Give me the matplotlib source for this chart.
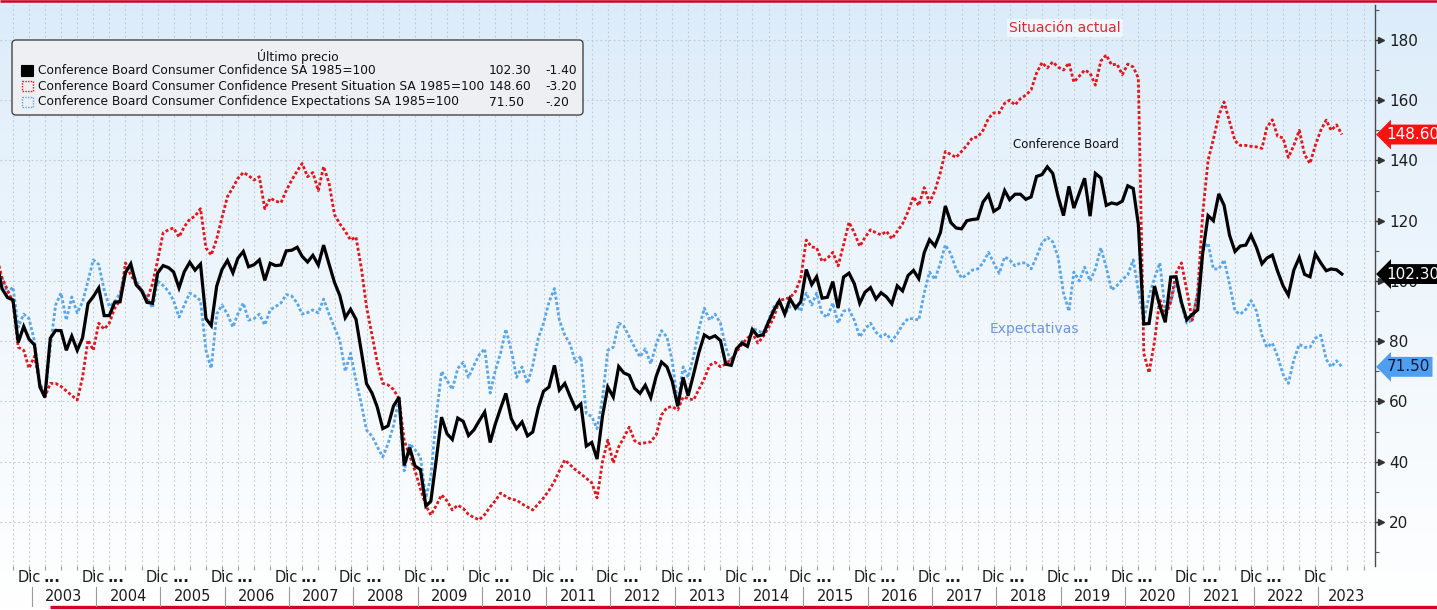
import numpy as np
import pandas as pd
import matplotlib
matplotlib.use("Agg")
import matplotlib.pyplot as plt
import matplotlib.dates as mdates
from matplotlib.patches import FancyBboxPatch, Rectangle
from matplotlib.transforms import blended_transform_factory
from matplotlib.ticker import FixedLocator, NullFormatter

# ---------------- data (monthly, Jun 2002 .. May 2023) ----------------
start_month = "2002-06-01"

conf = [
    106.3, 97.4, 94.5, 93.7, 79.6, 84.9, 80.7,
    78.8, 64.8, 61.4, 81.0, 83.6, 83.5, 77.0, 81.7, 77.0, 81.1, 92.5, 94.8,
    97.7, 88.5, 88.5, 93.0, 93.1, 102.8, 105.7, 98.7, 96.7, 92.9, 92.6, 102.7,
    105.1, 104.4, 103.0, 97.7, 103.1, 106.2, 103.6, 105.6, 87.5, 85.2, 98.3, 103.8,
    106.8, 102.7, 107.5, 109.8, 104.7, 105.4, 107.0, 100.2, 105.9, 105.1, 105.3, 110.0,
    110.2, 111.2, 108.2, 106.3, 108.5, 105.3, 111.9, 105.6, 99.5, 95.2, 87.8, 90.6,
    87.3, 76.4, 65.9, 62.8, 58.1, 51.0, 51.9, 58.5, 61.4, 38.8, 44.7, 38.6,
    37.4, 25.3, 26.9, 40.8, 54.8, 49.3, 47.4, 54.5, 53.4, 48.7, 50.6, 53.6,
    56.5, 46.4, 52.3, 57.7, 62.7, 54.3, 51.0, 53.2, 48.6, 49.9, 57.8, 63.4,
    64.8, 72.0, 63.8, 66.0, 61.7, 57.6, 59.2, 45.2, 46.4, 40.9, 55.2, 64.8,
    61.5, 71.6, 69.5, 68.7, 64.4, 62.7, 65.4, 61.3, 68.4, 73.1, 71.5, 66.7,
    58.4, 68.0, 61.9, 69.0, 76.2, 82.1, 81.0, 81.8, 80.2, 72.4, 72.0, 77.5,
    79.4, 78.3, 83.9, 81.7, 82.2, 86.4, 90.3, 93.4, 89.0, 94.1, 91.0, 93.1,
    103.8, 98.8, 101.4, 94.3, 94.6, 99.8, 91.0, 101.3, 102.6, 99.1, 92.6, 96.3,
    97.8, 94.0, 96.1, 94.7, 92.4, 98.4, 96.7, 101.8, 103.5, 100.8, 109.4, 113.7,
    111.6, 116.1, 124.9, 119.4, 117.6, 117.3, 120.0, 120.4, 120.6, 126.2, 128.6, 123.1,
    124.3, 130.0, 127.0, 128.8, 128.8, 127.1, 127.9, 134.7, 135.3, 137.9, 135.7, 128.1,
    121.7, 131.4, 124.2, 129.2, 134.1, 121.5, 135.7, 134.2, 125.1, 125.9, 125.5, 126.5,
    131.6, 130.7, 118.8, 85.7, 85.9, 98.3, 91.7, 86.3, 101.3, 101.4, 92.9, 87.1,
    88.9, 90.4, 109.0, 121.7, 120.0, 128.9, 125.1, 115.2, 109.8, 111.6, 111.9, 115.2,
    111.1, 105.7, 107.6, 108.6, 103.2, 98.4, 95.3, 103.6, 107.8, 102.2, 101.4, 109.0,
    106.0, 103.4, 104.0, 103.7, 102.3,
]

present = [
    108, 101, 97, 93, 78, 77, 71,
    75, 66, 61.5, 66, 66, 65, 63.5, 62, 60.5, 68, 80.4, 77,
    86, 84, 86, 91, 93.7, 106, 102, 99, 97, 93.7, 99, 107,
    116, 117, 117.6, 114.6, 118, 120.5, 121.5, 124, 111, 108.6, 114, 121,
    128, 131, 134, 136, 135, 133.5, 134.6, 124, 127.5, 126.5, 126, 130,
    133.5, 136.5, 139, 134.6, 136, 130, 138, 132.5, 122, 119, 116.5, 113.6,
    114.6, 104, 91.4, 82, 73, 66, 65.5, 64, 61, 47, 42, 37,
    31, 25.5, 22.3, 25.5, 29, 27, 24, 25.6, 24.5, 22.5, 21.5, 20.7,
    22.5, 25, 27, 29.6, 28.5, 27.5, 27.3, 26, 25, 24, 26, 28,
    30.5, 33.5, 37, 40.6, 39, 37.3, 36, 34.5, 33, 28, 40, 47.2,
    39.6, 45, 48, 51.5, 47, 46, 46.3, 46.6, 49, 55.5, 58, 58.3,
    57.2, 61.5, 61, 60.5, 64, 67.5, 72, 73, 71.5, 72.5, 74, 76.5,
    79, 81, 82.7, 79.4, 81.5, 84.5, 88, 93.5, 94, 94.5, 96.5, 101,
    113.6, 111.3, 111, 106.5, 107.5, 109.5, 105, 112, 119.5, 116, 111.5, 114.5,
    117, 116, 115.3, 116.5, 114, 116.5, 119, 123, 128, 125, 131, 126,
    130, 136, 143, 142, 141, 143, 145, 147.5, 147.8, 150, 154, 155.8,
    155.8, 159, 160, 158.4, 160.5, 161.7, 163.4, 169, 172.5, 170.7, 172.7, 171,
    170, 172.4, 166, 168, 170, 169, 165, 173, 175, 171.7, 172, 168.5,
    172, 171, 167.4, 76, 69.5, 80, 94, 88, 93, 102.6, 106, 97,
    87, 96, 122, 140, 147, 155, 159.4, 153, 146.5, 145, 145, 144.7,
    144.5, 144, 151, 153.5, 148, 147.5, 141, 145, 150, 142, 139, 145,
    150, 153.4, 150, 151.8, 148.6,
]

expect = [
    104, 101, 96, 98, 84.7, 89, 87.5,
    80, 66, 61.5, 78, 92, 96, 87, 94.7, 89.4, 93, 100, 107,
    105.5, 97, 91.5, 93, 96, 103, 104, 100, 97, 94.7, 91, 100,
    98.5, 96.5, 93.5, 88, 92, 96, 95, 93.5, 77, 71, 89, 92,
    89, 84.7, 89, 92.7, 87, 87.5, 89, 85.4, 90.4, 91.5, 92.7, 95.5,
    95, 92.7, 89, 89.5, 90.4, 89.4, 94, 89, 84.5, 80.4, 70, 76,
    67, 59, 50.5, 48.5, 45, 41.6, 46, 52, 61, 37, 46, 44,
    41.6, 28, 35, 55, 70, 67, 64, 71, 73, 68, 72, 75.5,
    77.5, 62.8, 70, 76, 84, 77, 68, 71.5, 66, 72, 81, 86,
    93, 97.5, 87, 82, 79, 73, 75, 56, 55, 51, 61, 77,
    78, 86, 85, 81.5, 78, 74.8, 77.5, 72.5, 79, 83.5, 81.4, 73.5,
    59.5, 71.5, 68, 75, 84, 91, 87, 89, 86, 78, 73, 77,
    80, 78, 84.4, 83.5, 82.7, 87, 91.4, 93.5, 89, 91.5, 92, 90,
    96, 92, 96, 89, 88, 92.7, 86, 90, 90.5, 87, 81.4, 84,
    86, 83, 81.5, 82.5, 80, 82.5, 85.5, 87.5, 87.5, 87, 96, 103,
    100.5, 106, 112, 109, 104, 101, 102, 103.6, 104, 106, 109.5, 106,
    102.5, 108, 107, 105, 106, 106, 104, 108, 112.6, 114.5, 113, 108,
    96, 90, 103, 100, 104.6, 100, 104, 111, 104.5, 97, 98.5, 100.5,
    102, 107, 97, 87, 95, 101, 106, 90, 93, 100, 92, 86,
    87, 96, 110, 112.6, 104, 104, 107, 99, 90, 89, 90.5, 93.5,
    90, 82, 78, 79.4, 75, 69, 66, 73.8, 79, 78, 78, 81,
    82, 74, 71.5, 73.5, 71.5,
]

legend_title = "Último precio"
legend_names = [
    "Conference Board Consumer Confidence SA 1985=100",
    "Conference Board Consumer Confidence Present Situation SA 1985=100",
    "Conference Board Consumer Confidence Expectations SA 1985=100",
]
last_values = ["102.30", "148.60", "71.50"]
last_numbers = [102.30, 148.60, 71.50]
changes = ["-1.40", "-3.20", "-.20"]
y_ticks = [20, 40, 60, 80, 100, 120, 140, 160, 180]
years = list(range(2003, 2024))
month_label = "Dic"

# ---------------- styling ----------------
C_BLACK = "#000000"
C_RED = "#e3161c"
C_BLUE = "#5aa6ea"
C_FRAME = "#d5001f"

W, H = 1437, 610
fig = plt.figure(figsize=(W / 100, H / 100), dpi=100)

# background gradient
bg = fig.add_axes([0, 0, 1, 1], zorder=-10)
t = np.linspace(0, 1, 300) ** 0.8
top_c = np.array([0.855, 0.922, 0.980])
bot_c = np.array([1.0, 1.0, 1.0])
img = top_c[None, None, :] + (bot_c - top_c)[None, None, :] * t[:, None, None]
bg.imshow(img, aspect="auto", extent=[0, 1, 0, 1], origin="upper")
bg.axis("off")

# main axes (pixel layout)
ax_l, ax_r, ax_t, ax_b = 0, 1375, 5, 566
ax = fig.add_axes([ax_l / W, 1 - ax_b / H, (ax_r - ax_l) / W, (ax_b - ax_t) / H])
ax.patch.set_alpha(0)

dates = pd.date_range(start_month, periods=len(conf), freq="MS")

ax.plot(dates, expect, color=C_BLUE, lw=2.0, ls=(0, (1.1, 0.8)), zorder=3)
ax.plot(dates, present, color=C_RED, lw=2.0, ls=(0, (1.1, 0.8)), zorder=3)
ax.plot(dates, conf, color=C_BLACK, lw=2.3, zorder=4, solid_joinstyle="miter")

dec02 = mdates.date2num(pd.Timestamp("2002-12-01"))
px_per_day = 5.36 / 30.44
ax.set_xlim(dec02 - 29 / px_per_day, dec02 + (1375 - 29) / px_per_day)
ax.set_ylim(5.4, 191.6)

# x ticks: Dec major, quarterly minor
dec_dates = [pd.Timestamp(f"{y - 1}-12-01") for y in years]
q_dates = []
for y in range(2002, 2024):
    for mth in (3, 6, 9):
        q_dates.append(pd.Timestamp(f"{y}-{mth:02d}-01"))
ax.xaxis.set_major_locator(FixedLocator(mdates.date2num(dec_dates)))
ax.xaxis.set_minor_locator(FixedLocator(mdates.date2num(q_dates)))
ax.xaxis.set_major_formatter(NullFormatter())
ax.xaxis.set_minor_formatter(NullFormatter())
ax.tick_params(axis="x", which="major", length=6, color="#8a8a8a", width=0.8)
ax.tick_params(axis="x", which="minor", length=3, color="#9a9a9a", width=0.8)

# y axis on the right
ax.yaxis.tick_right()
ax.set_yticks(y_ticks)
ax.set_yticks([v + 10 for v in [0] + y_ticks], minor=True)
ax.tick_params(axis="y", which="major", length=5, width=1.0, color="#333333",
               labelsize=11, labelcolor="#1c1c1c", pad=5)
ax.tick_params(axis="y", which="minor", length=3, width=0.8, color="#555555")
for side in ("left", "top", "bottom"):
    ax.spines[side].set_visible(False)
ax.spines["right"].set_color("#4a4a4a")
ax.spines["right"].set_linewidth(1.0)

# grid
ax.grid(True, axis="y", which="major", color="#c4c8cd", lw=0.8, ls=(0, (1.5, 2.5)))
ax.grid(True, axis="x", which="both", color="#c4c8cd", lw=0.8, ls=(0, (1.5, 2.5)))
ax.set_axisbelow(True)

# triangular tick heads
ytrans = blended_transform_factory(ax.transAxes, ax.transData)
ax.plot([1.0045] * len(y_ticks), y_ticks, ls="none", marker=">", ms=4.5,
        color="#333333", transform=ytrans, clip_on=False, zorder=5)

# last value tags
tag_styles = [("#000000", "white"), ("#ff1010", "white"), ("#4f9ff0", "#0b1a3a")]
for val, txt, (fc, tc) in zip(last_numbers, last_values, tag_styles):
    ax.text(1.0085, val, txt, transform=ytrans, ha="left", va="center",
            fontsize=11, color=tc, zorder=6, clip_on=False,
            bbox=dict(boxstyle="larrow,pad=0.16", fc=fc, ec="none"))

# ---------------- overlay in pixel coordinates ----------------
ov = fig.add_axes([0, 0, 1, 1], zorder=5)
ov.set_xlim(0, W)
ov.set_ylim(H, 0)
ov.axis("off")
ov.patch.set_alpha(0)

# red frame lines
ov.plot([0, W], [1, 1], color=C_FRAME, lw=1.8, solid_capstyle="butt")
ov.plot([50, W], [606.5, 606.5], color=C_FRAME, lw=2.4, solid_capstyle="butt")

# legend box
ov.add_patch(FancyBboxPatch((12, 40), 571, 75, boxstyle="round,pad=0,rounding_size=4",
                            fc="#eef0f3", ec="#3c3c3c", lw=1.0, alpha=0.95))
ov.text(298, 56, legend_title, ha="center", va="center", fontsize=8.8, color="#111111")
rows_y = [70, 86, 102]
ov.add_patch(Rectangle((21, rows_y[0] - 5.5), 12, 11, fc="black", ec="black", lw=0.8))
ov.add_patch(Rectangle((21.5, rows_y[1] - 5), 11, 10, fill=False, ec=C_RED, lw=1.0, ls=(0, (1, 1))))
ov.add_patch(Rectangle((21.5, rows_y[2] - 5), 11, 10, fill=False, ec=C_BLUE, lw=1.0, ls=(0, (1, 1))))
for yy, name, val, chg in zip(rows_y, legend_names, last_values, changes):
    ov.text(38, yy, name, ha="left", va="center", fontsize=8.8, color="#111111")
    ov.text(489, yy, val, ha="left", va="center", fontsize=8.8, color="#111111")
    ov.text(545, yy, chg, ha="left", va="center", fontsize=8.8, color="#111111")

# series annotations
ov.text(1065, 28, "Situación actual", ha="center", va="center", fontsize=10, color="#e3262b",
        bbox=dict(boxstyle="square,pad=0.15", fc="white", ec="none", alpha=0.55))
ov.text(1066, 144, "Conference Board", ha="center", va="center", fontsize=8.5, color="#111111")
ov.text(1034, 329, "Expectativas", ha="center", va="center", fontsize=10, color="#6d95da")

# x labels: "Dic ..." row and year row with separators
xtrans = blended_transform_factory(ax.transData, ov.transData)
for i, d in enumerate(dec_dates):
    xd = mdates.date2num(d)
    ov.text(xd, 578, month_label, transform=xtrans, ha="center", va="center",
            fontsize=10.5, color="#1c1c1c")
    if i < len(dec_dates) - 1:
        ov.text(xd + 4.3 * 30.44, 577, "...", transform=xtrans, ha="center", va="center",
                fontsize=10.5, color="#1c1c1c", fontweight="bold")
xmax = ax.get_xlim()[1]
for i, y in enumerate(years):
    sep = mdates.date2num(pd.Timestamp(f"{y - 1}-12-16"))
    ov.plot([sep, sep], [587, 606], transform=xtrans, color="#9a9a9a", lw=0.8)
    if y < years[-1]:
        nxt = mdates.date2num(pd.Timestamp(f"{y}-12-16"))
    else:
        nxt = xmax
    ov.text((sep + nxt) / 2, 596.5, str(y), transform=xtrans, ha="center", va="center",
            fontsize=10.5, color="#1c1c1c")

fig.savefig("out.png", dpi=100)
